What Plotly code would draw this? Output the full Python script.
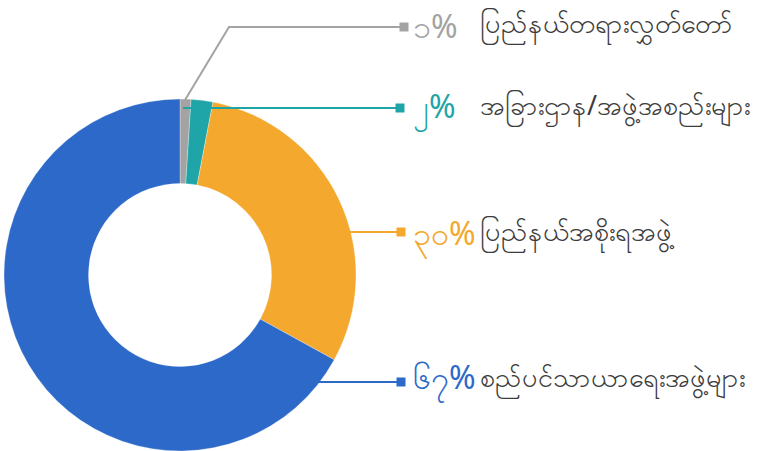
import plotly.graph_objects as go

# Data
labels = ["ပြည်နယ်တရားလွှတ်တော်", "အခြားဌာန/အဖွဲ့အစည်းများ", "ပြည်နယ်အစိုးရအဖွဲ့", "စည်ပင်သာယာရေးအဖွဲ့များ"]
values = [1, 2, 30, 67]
colors = ["#a3a3a3", "#1fa5a8", "#f4a82e", "#2d69c8"]

W, H = 757, 451
MY_DIGITS = "၀၁၂၃၄၅၆၇၈၉"


def my_num(n):
    return "".join(MY_DIGITS[int(c)] for c in str(n))


def px(x, y):
    return x / W, 1 - y / H


fig = go.Figure()
fig.add_trace(go.Pie(
    labels=labels, values=values, hole=0.52, sort=False, direction="clockwise",
    rotation=0, marker=dict(colors=colors, line=dict(color="rgba(255,255,255,0.6)", width=0.5)),
    textinfo="none", hoverinfo="label+percent", showlegend=False,
    domain=dict(x=[0, 360 / W], y=[0, 352 / H]),
))

# leader lines (pixel layout positions)
leaders = [
    [(185, 100), (229, 27), (404, 27)],
    [(183, 108), (400, 108)],
    [(343, 232), (401, 232)],
    [(317, 382), (401, 382)],
]
pct_y = [26, 108, 235, 379]
lab_y = [24, 106, 232, 378]

shapes = []
annotations = []
for i, pts in enumerate(leaders):
    path = "M " + " L ".join(f"{px(x, y)[0]},{px(x, y)[1]}" for x, y in pts)
    shapes.append(dict(type="path", xref="paper", yref="paper", path=path,
                       line=dict(color=colors[i], width=2)))
    ex, ey = pts[-1]
    x0, y0 = px(ex - 4.5, ey + 4.5)
    x1, y1 = px(ex + 4.5, ey - 4.5)
    shapes.append(dict(type="rect", xref="paper", yref="paper", x0=x0, y0=y0, x1=x1, y1=y1,
                       fillcolor=colors[i], line=dict(width=0)))
    ax, ay = px(411, pct_y[i])
    annotations.append(dict(x=ax, y=ay, xref="paper", yref="paper", xanchor="left", yanchor="middle",
                            text=my_num(values[i]) + "%", showarrow=False,
                            font=dict(size=32, color=colors[i], family="Noto Sans, DejaVu Sans")))
    lx, ly = px(478, lab_y[i])
    annotations.append(dict(x=lx, y=ly, xref="paper", yref="paper", xanchor="left", yanchor="middle",
                            text=labels[i], showarrow=False,
                            font=dict(size=27, color="#3c3c3c", family="Noto Sans, DejaVu Sans")))

fig.update_layout(
    width=W, height=H, margin=dict(l=0, r=0, t=0, b=0),
    paper_bgcolor="white", plot_bgcolor="white",
    shapes=shapes, annotations=annotations,
)
fig.write_html("out.html", config={"displayModeBar": False},
               post_script="document.body.style.margin='0';")
